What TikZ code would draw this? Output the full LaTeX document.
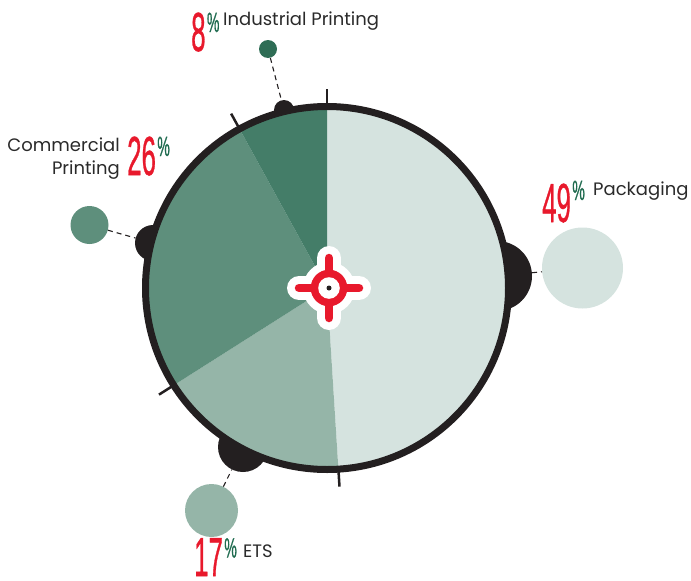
\documentclass[tikz,border=0pt]{standalone}
\usepackage{fontspec}
\usepackage{graphicx}
\setmainfont{Poppins}
\newfontfamily\numfont[FakeBold=1]{Liberation Sans}
\definecolor{ringc}{HTML}{231F20}
\definecolor{packc}{HTML}{D5E3DF}
\definecolor{etsc}{HTML}{95B5A8}
\definecolor{commc}{HTML}{5E8F7C}
\definecolor{indusc}{HTML}{447D68}
\definecolor{indusdot}{HTML}{2E6D55}
\definecolor{redn}{HTML}{E8192C}
\definecolor{greenp}{HTML}{1F6B4F}
\definecolor{txtc}{HTML}{2A2A2A}
\newcommand{\bignum}[1]{{\numfont\fontsize{55}{55}\selectfont\color{redn}\scalebox{0.47}[1]{#1}}}
\newcommand{\pctsign}{{\numfont\fontsize{28}{28}\selectfont\color{greenp}\scalebox{0.5}[1]{\%}}}
\tikzset{
  bump/.style={circle, fill=ringc, inner sep=0pt, draw=none},
  bubble/.style={circle, inner sep=0pt, draw=none},
  dashline/.style={ringc, line width=1.1pt, dash pattern=on 5pt off 4pt},
  tick/.style={ringc, line width=2.5pt},
  num/.style={inner sep=0pt, anchor=base west},
  pct/.style={inner sep=0pt, anchor=north west},
  lbl/.style={inner sep=0pt, text=txtc, font=\fontsize{18}{20}\selectfont}
}
\begin{document}
\begin{tikzpicture}[x=1pt,y=-1pt]
\useasboundingbox (0,0) rectangle (691,581);
% bumps behind the pie
\node[bump, minimum size=20pt] (bI) at (284,110) {};
\node[bump, minimum size=36pt] (bC) at (153,243) {};
\node[bump, minimum size=50pt] (bE) at (243,447) {};
\node[bump, minimum size=70pt] (bP) at (497,276) {};
% pie
\begin{scope}[shift={(327,288)}, y=1pt]
  \coordinate (pc) at (0,0);
  \fill[packc] (pc) -- (90:181.5) arc[start angle=90, end angle=-86.4, radius=181.5] -- cycle;
  \fill[etsc] (pc) -- (-86.4:181.5) arc[start angle=-86.4, end angle=-147.6, radius=181.5] -- cycle;
  \fill[commc] (pc) -- (-147.6:181.5) arc[start angle=-147.6, end angle=-241.2, radius=181.5] -- cycle;
  \fill[indusc] (pc) -- (118.8:181.5) arc[start angle=118.8, end angle=90, radius=181.5] -- cycle;
  \draw[ringc, line width=7pt] (pc) circle[radius=181.5];
  \foreach \a in {90,-86.4,-147.6,118.8} \draw[tick] (\a:184) -- (\a:199);
\end{scope}
% crosshair
\begin{scope}[shift={(329,288)}]
  \coordinate (cc) at (0,0);
  \fill[white] (cc) circle[radius=26];
  \draw[white, line width=24pt, line cap=round] (-30,0) -- (30,0);
  \draw[white, line width=24pt, line cap=round] (0,-30) -- (0,30);
  \draw[redn, line width=8.5pt, line cap=round] (-30,0) -- (30,0);
  \draw[redn, line width=8.5pt, line cap=round] (0,-30) -- (0,30);
  \fill[redn] (cc) circle[radius=18.3];
  \fill[white] (cc) circle[radius=10.8];
  \fill[ringc] (cc) circle[radius=2.5];
\end{scope}
% outer bubbles
\node[bubble, fill=indusdot, minimum size=18pt] (oI) at (268,49) {};
\node[bubble, fill=commc, minimum size=38pt] (oC) at (89.5,225) {};
\node[bubble, fill=packc, minimum size=81pt] (oP) at (582.5,268) {};
\node[bubble, fill=etsc, minimum size=53pt] (oE) at (211.5,510.5) {};
% dashed connectors
\draw[dashline] (oI) -- (bI);
\draw[dashline] (oC) -- (bC);
\draw[dashline] (bP) -- (oP);
\draw[dashline] (oE) -- (bE);
% labels
\node[num] (n8) at (191,51) {\bignum{8}};
\node[pct] (p8) at ([xshift=1pt]n8.north east) {\pctsign};
\node[lbl, anchor=base west] (tI) at (223,25) {Industrial Printing};

\node[num] (n26) at (127,175) {\bignum{26}};
\node[pct] (p26) at ([xshift=1pt]n26.north east) {\pctsign};
\node[lbl, anchor=base east] (tC1) at (120,151) {Commercial};
\node[lbl, anchor=base east] (tC2) at (120,174) {Printing};

\node[num] (n49) at (542,222) {\bignum{49}};
\node[pct] (p49) at ([xshift=1pt, yshift=3pt]n49.north east) {\pctsign};
\node[lbl, anchor=base west] (tP) at (593,195) {Packaging};

\node[num] (n17) at (194,576) {\bignum{17}};
\node[pct] (p17) at ([xshift=1pt]n17.north east) {\pctsign};
\node[lbl, anchor=base west] (tE) at (243,557) {ETS};
\end{tikzpicture}
\end{document}
